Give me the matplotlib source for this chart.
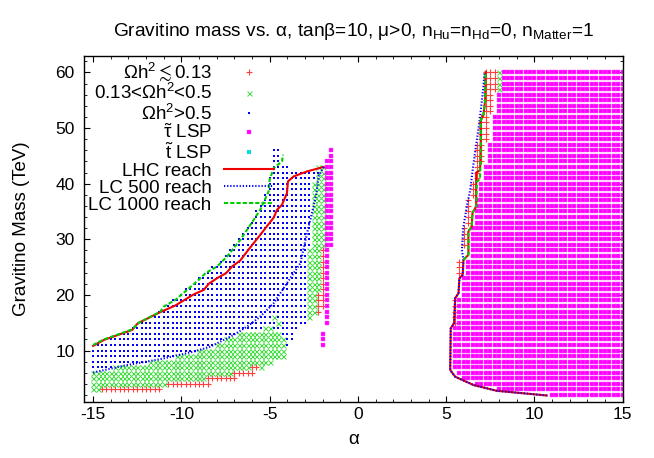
import matplotlib
matplotlib.use("Agg")
import matplotlib.pyplot as plt
import numpy as np

plt.rcParams['font.family'] = ['Liberation Sans', 'DejaVu Sans']
plt.rcParams['mathtext.fontset'] = 'custom'
plt.rcParams['mathtext.rm'] = 'Liberation Sans'
plt.rcParams['mathtext.it'] = 'Liberation Sans:italic'
plt.rcParams['mathtext.default'] = 'regular'
plt.rcParams['axes.unicode_minus'] = False

# scan grid step in alpha (mass rows are every 1 TeV)
krokAlfa = 0.25

# blocks of scan points: (alpha from, alpha to, m from, m to)
omegaMale = [
    (-14.5, -11.25, 3, 3), (-10.75, -8.5, 4, 4), (-8.5, -7.0, 5, 5),
    (-7.0, -6.0, 6, 6), (-6.0, -5.75, 7, 7), (-2.25, -2.25, 17, 20),
    (-2.0, -2.0, 18, 28),
    (7.25, 7.75, 57, 60), (7.25, 7.5, 53, 56), (7.0, 7.25, 48, 52),
    (6.75, 7.0, 44, 47), (6.75, 6.75, 41, 43), (6.5, 6.5, 38, 40),
    (6.25, 6.25, 33, 37), (6.0, 6.0, 29, 32), (5.75, 5.75, 24, 26),
    (5.5, 5.5, 15, 19),
]
omegaSrednie = [
    (-15.0, -14.75, 3, 3), (-15.0, -11.0, 4, 4), (-15.0, -8.75, 5, 5),
    (-15.0, -7.25, 6, 6), (-13.75, -6.25, 7, 7), (-5.5, -5.5, 7, 7),
    (-11.75, -5.0, 8, 8), (-10.25, -4.25, 9, 9), (-9.0, -4.25, 10, 10),
    (-8.0, -4.25, 11, 11), (-7.5, -4.25, 12, 12), (-6.75, -4.5, 13, 13),
    (-5.25, -5.0, 14, 14), (-4.5, -4.5, 15, 15), (-4.75, -4.75, 16, 16),
    (-2.75, -2.75, 16, 16), (-2.75, -2.5, 17, 20), (-2.75, -2.25, 21, 28),
    (-2.5, -2.0, 29, 40), (-2.25, -2.0, 41, 43),
    (8.0, 8.0, 57, 60),
]
omegaDuze = [
    (-15.0, -14.0, 7, 7), (-15.0, -12.0, 8, 8), (-15.0, -10.5, 9, 9),
    (-15.0, -9.25, 10, 10), (-14.75, -8.25, 11, 11), (-4.0, -4.0, 11, 11),
    (-14.25, -7.75, 12, 12), (-4.0, -3.75, 12, 12),
    (-13.5, -7.0, 13, 13), (-4.25, -3.75, 13, 13),
    (-12.75, -5.5, 14, 14), (-4.75, -3.5, 14, 14),
    (-12.25, -4.75, 15, 15), (-4.25, -3.0, 15, 15),
    (-11.75, -5.0, 16, 16), (-4.5, -3.0, 16, 16),
    (-11.25, -3.0, 17, 17), (-10.75, -3.0, 18, 18), (-10.5, -3.0, 19, 19),
    (-10.0, -3.0, 20, 20), (-9.75, -3.0, 21, 21), (-9.25, -3.0, 22, 22),
    (-9.0, -3.0, 23, 23), (-8.5, -3.0, 24, 24), (-8.25, -3.0, 25, 25),
    (-7.75, -3.0, 26, 26), (-7.5, -3.0, 27, 27), (-7.25, -3.0, 28, 28),
    (-7.0, -2.75, 29, 29), (-6.75, -2.75, 30, 30), (-6.5, -2.75, 31, 31),
    (-6.25, -2.75, 32, 32), (-6.0, -2.75, 33, 33), (-5.75, -2.75, 34, 35),
    (-5.5, -2.75, 36, 36), (-5.25, -2.75, 37, 38), (-5.0, -2.75, 39, 40),
    (-5.0, -2.5, 41, 41), (-4.75, -2.25, 42, 42), (-4.75, -4.0, 43, 43),
    (-4.75, -4.5, 44, 46),
]
stauLSP = [
    (-2.0, -2.0, 11, 13), (-1.75, -1.75, 15, 28), (-1.75, -1.5, 29, 44),
    (-1.5, -1.5, 45, 46),
    (11.0, 15.0, 2, 2), (8.0, 15.0, 3, 3), (6.75, 15.0, 4, 4),
    (6.0, 15.0, 5, 5), (5.75, 15.0, 6, 6), (5.5, 15.0, 7, 14),
    (5.75, 15.0, 15, 19), (6.0, 15.0, 20, 23), (6.25, 15.0, 24, 26),
    (6.5, 15.0, 27, 32), (6.75, 15.0, 33, 37), (7.0, 15.0, 38, 40),
    (7.25, 15.0, 41, 43), (7.5, 15.0, 44, 47), (7.75, 15.0, 48, 52),
    (8.0, 15.0, 53, 56), (8.25, 15.0, 57, 60),
]
stopLSP = []

# reach curves (alpha, m3/2), left and right branch
lhcAlfaL = [-15.0, -14.39, -12.79, -12.47, -11.19, -10.34, -9.30, -8.73, -8.45, -7.98, -7.47,
            -7.13, -6.66, -6.28, -5.53, -4.77, -4.58, -4.30, -4.02, -3.96, -3.64, -2.88, -1.94]
lhcMasaL = [10.84, 11.9, 13.7, 14.9, 16.9, 18.1, 20.1, 20.9, 22.0, 23.0, 23.9,
            25.1, 26.2, 27.8, 30.8, 33.9, 35.3, 36.2, 38.3, 40.4, 41.3, 42.2, 43.0]
lhcAlfaP = [10.7, 7.87, 6.55, 5.51, 5.23, 5.26, 5.45, 5.51, 5.70, 5.75, 5.94, 5.98, 6.26,
            6.26, 6.45, 6.49, 6.70, 6.70, 6.92, 6.96, 6.96, 7.11, 7.21, 7.24]
lhcMasaP = [1.92, 2.76, 3.8, 5.3, 6.5, 14.0, 14.9, 19.4, 20.3, 23.0, 23.6, 26.3, 27.2,
            31.4, 32.3, 34.7, 35.9, 42.0, 42.4, 47.2, 51.4, 52.3, 55.0, 60.1]

lc500AlfaL = [-15.0, -13.07, -11.19, -9.30, -8.36, -7.04, -6.28, -5.53, -4.77, -4.02,
              -3.26, -2.88, -2.51, -2.32, -2.23, -1.94]
lc500MasaL = [6.05, 7.4, 8.45, 9.8, 10.7, 12.8, 14.3, 16.1, 18.5, 22.1,
              25.7, 31.1, 35.9, 38.9, 41.3, 43.0]
lc500AlfaP = [10.7, 7.87, 6.55, 5.51, 5.23, 5.26, 5.45, 5.51, 5.70, 5.75, 5.94, 5.98,
              5.89, 5.98, 6.17, 6.36, 6.55, 6.74, 6.92, 7.11, 7.17]
lc500MasaP = [1.92, 2.76, 3.8, 5.3, 6.5, 14.0, 14.9, 19.4, 20.3, 23.0, 23.6, 26.3,
              28.1, 32.3, 35.9, 38.8, 43.6, 47.8, 52.0, 57.4, 60.1]

lc1000AlfaL = [-15.0, -14.39, -12.79, -12.41, -11.19, -11.0, -10.34, -9.68, -9.02, -8.64,
               -7.98, -7.41, -6.66, -6.09, -5.53, -5.06, -5.0, -4.77, -4.30, -4.24]
lc1000MasaL = [11.0, 12.0, 13.8, 15.0, 17.0, 17.9, 19.1, 20.9, 22.7, 23.9,
               25.1, 26.9, 29.9, 32.6, 35.3, 38.6, 40.7, 42.8, 44.0, 45.2]
lc1000AlfaP = [5.98, 6.26, 6.26, 6.45, 6.49, 6.70, 6.74, 6.92, 6.96, 6.96, 7.11, 7.21, 7.24]
lc1000MasaP = [26.3, 27.2, 31.4, 32.3, 34.7, 35.9, 40.3, 40.9, 47.2, 51.4, 52.3, 55.0, 60.1]


def rozwin(bloki):
    # expand blocks into the scan grid points
    xs, ys = [], []
    for a0, a1, m0, m1 in bloki:
        for m in range(m0, m1 + 1):
            for a in np.arange(a0, a1 + krokAlfa / 2, krokAlfa):
                xs.append(a)
                ys.append(m)
    return xs, ys


fig = plt.figure(figsize=(6.54, 4.58), dpi=100)
ax = fig.add_axes([0.1289, 0.1229, 0.8232, 0.7555])

x, y = rozwin(omegaMale)
ax.plot(x, y, ls="none", marker="+", ms=4.5, mew=0.8, color="#ff4040",
        label=r"$\Omega h^2\lesssim$0.13")
x, y = rozwin(omegaSrednie)
ax.plot(x, y, ls="none", marker="x", ms=3.6, mew=0.7, color="#40dd40",
        label=r"0.13<$\Omega h^2$<0.5")
x, y = rozwin(omegaDuze)
ax.plot(x, y, ls="none", marker="s", ms=1.9, mew=0, color="#0000ff",
        label=r"$\Omega h^2$>0.5")
x, y = rozwin(stauLSP)
ax.plot(x, y, ls="none", marker="s", ms=3.4, mew=0.3, mec="#ff55ff", color="#ff00ff",
        label=r"$\tilde{\tau}$ LSP")
x, y = rozwin(stopLSP)
ax.plot(x, y, ls="none", marker="s", ms=3.4, mew=0, color="#00e0e0",
        label=r"$\tilde{t}$ LSP")

ax.plot(lhcAlfaL, lhcMasaL, color="#ee0000", lw=1.5, label="LHC reach")
ax.plot(lhcAlfaP, lhcMasaP, color="#ee0000", lw=1.5)
ax.plot(lc500AlfaL, lc500MasaL, color="#0000ff", lw=1.5, ls=(0, (0.6, 0.9)), label="LC 500 reach")
ax.plot(lc500AlfaP, lc500MasaP, color="#0000ff", lw=1.5, ls=(0, (0.6, 0.9)))
ax.plot(lc1000AlfaL, lc1000MasaL, color="#00cc00", lw=1.5, ls=(0, (2, 1)), label="LC 1000 reach")
ax.plot(lc1000AlfaP, lc1000MasaP, color="#00cc00", lw=1.5, ls=(0, (2, 1)))

ax.set_xlim(-15.5, 15)
ax.set_ylim(0.8, 63)
ax.set_xticks(np.arange(-15, 16, 5))
ax.set_xticks(np.arange(-15, 16, 1), minor=True)
ax.set_yticks(np.arange(10, 61, 10))
ax.set_yticks(np.arange(2, 63, 2), minor=True)
ax.tick_params(which="both", direction="in", top=True, right=True, labelsize=12.5)
ax.tick_params(which="major", length=4.5)
ax.tick_params(which="minor", length=2.5)
ax.tick_params(axis="x", pad=4)
ax.tick_params(axis="y", pad=7)
for s in ax.spines.values():
    s.set_linewidth(1.0)

ax.set_xlabel("α", fontsize=13.5, labelpad=6)
ax.set_ylabel("Gravitino Mass (TeV)", fontsize=13.5, labelpad=18)
ax.set_title(r"Gravitino mass vs. α, tanβ=10, μ>0, n$_{Hu}$=n$_{Hd}$=0, n$_{Matter}$=1",
             fontsize=13.8, pad=14)

ax.legend(loc="upper right", bbox_to_anchor=(0.352, 0.985), markerfirst=False, frameon=False,
          fontsize=13.5, handlelength=2.67, handletextpad=0.64, labelspacing=0.0,
          borderaxespad=0.0, borderpad=0.0)

fig.savefig("out.png", dpi=100)
